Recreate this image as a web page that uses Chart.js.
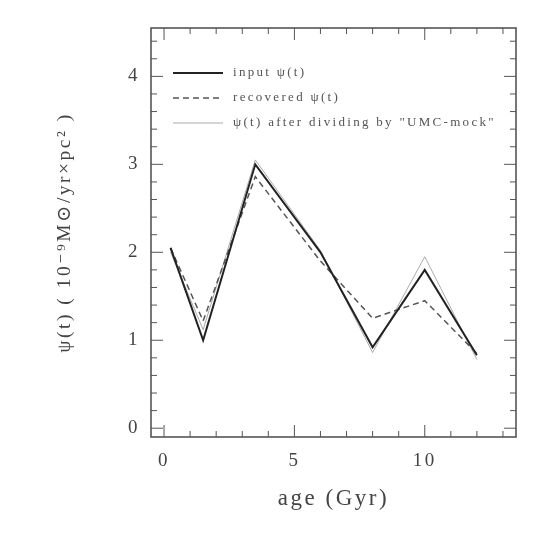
<!DOCTYPE html>
<html>
<head>
<meta charset="utf-8">
<script src="https://cdn.jsdelivr.net/npm/chart.js@4/dist/chart.umd.min.js"></script>
<style>
  html, body { margin: 0; padding: 0; background: #fff; }
  #wrap { width: 545px; height: 545px; }
</style>
</head>
<body>
<div id="wrap"><canvas id="grafico" width="545" height="545"></canvas></div>
<script>
// ages (Gyr)
var idades = [0.25, 1.5, 3.5, 6, 8, 10, 12];
// input psi(t)
var psiInput = [2.05, 1.0, 3.0, 2.0, 0.92, 1.8, 0.83];
// recovered psi(t)
var psiRecuperado = [2.05, 1.22, 2.86, 1.9, 1.25, 1.45, 0.85];
// psi(t) after dividing by "UMC-mock"
var psiUMC = [2.0, 1.12, 3.05, 2.02, 0.86, 1.95, 0.78];

var ticksX = [0, 5, 10];
var ticksY = [0, 1, 2, 3, 4];

var legendas = ['input \u03c8(t)', 'recovered \u03c8(t)', '\u03c8(t) after dividing by "UMC-mock"'];

function Pontos(xs, ys) {
    var pts = [];
    for (var i = 0; i < xs.length; i++) {
        pts.push({ x: xs[i], y: ys[i] });
    }
    return pts;
}

var fonte = "'Liberation Serif', 'DejaVu Serif', serif";

// wide, typewriter-like spacing of the original lettering
var espacamento = {
    id: 'espacamento',
    beforeDraw: function (chart) {
        chart.ctx.letterSpacing = '2.5px';
    }
};

// frame, inward ticks and legend drawn in the plot
var moldura = {
    id: 'moldura',
    afterDraw: function (chart) {
        var ctx = chart.ctx;
        var a = chart.chartArea;
        var sx = chart.scales.x, sy = chart.scales.y;
        ctx.save();
        ctx.strokeStyle = '#555';
        ctx.lineWidth = 1.6;
        ctx.strokeRect(a.left, a.top, a.right - a.left, a.bottom - a.top);

        ctx.lineWidth = 1;
        var v, px, len;
        for (v = 0; v <= 13; v++) {
            px = sx.getPixelForValue(v);
            len = (v % 5 === 0) ? 12 : 6;
            ctx.beginPath();
            ctx.moveTo(px, a.bottom); ctx.lineTo(px, a.bottom - len);
            ctx.moveTo(px, a.top); ctx.lineTo(px, a.top + len);
            ctx.stroke();
        }
        for (var k = 0; k <= 22; k++) {
            v = k * 0.2;
            px = sy.getPixelForValue(v);
            len = (k % 5 === 0) ? 12 : 6;
            ctx.beginPath();
            ctx.moveTo(a.left, px); ctx.lineTo(a.left + len, px);
            ctx.moveTo(a.right, px); ctx.lineTo(a.right - len, px);
            ctx.stroke();
        }

        // legend
        ctx.letterSpacing = '2.3px';
        ctx.font = '13px ' + fonte;
        ctx.textBaseline = 'middle';
        ctx.fillStyle = '#555';
        var linhaY = [73, 98, 123];
        chart.data.datasets.forEach(function (ds, i) {
            ctx.strokeStyle = ds.borderColor;
            ctx.lineWidth = ds.borderWidth;
            ctx.setLineDash(ds.borderDash || []);
            ctx.beginPath();
            ctx.moveTo(173, linhaY[i]);
            ctx.lineTo(223, linhaY[i]);
            ctx.stroke();
            ctx.setLineDash([]);
            ctx.fillText(legendas[i], 233, linhaY[i]);
        });
        ctx.restore();
    }
};

new Chart(document.getElementById('grafico'), {
    type: 'line',
    data: {
        datasets: [
            {
                label: legendas[0],
                data: Pontos(idades, psiInput),
                borderColor: '#222',
                borderWidth: 2,
                pointRadius: 0,
                fill: false,
                tension: 0
            },
            {
                label: legendas[1],
                data: Pontos(idades, psiRecuperado),
                borderColor: '#555',
                borderWidth: 1.5,
                borderDash: [6, 4],
                pointRadius: 0,
                fill: false,
                tension: 0
            },
            {
                label: legendas[2],
                data: Pontos(idades, psiUMC),
                borderColor: '#aaa',
                borderWidth: 1,
                pointRadius: 0,
                fill: false,
                tension: 0
            }
        ]
    },
    options: {
        responsive: false,
        animation: false,
        layout: { padding: { left: 49, top: 28, right: 29, bottom: 28 } },
        plugins: {
            legend: { display: false },
            tooltip: { enabled: false }
        },
        scales: {
            x: {
                type: 'linear',
                min: -0.5,
                max: 13.5,
                afterBuildTicks: function (s) {
                    s.ticks = ticksX.map(function (t) { return { value: t }; });
                },
                afterFit: function (s) { s.height = 80; },
                grid: { display: false, drawTicks: false },
                border: { display: false },
                ticks: {
                    padding: 13,
                    color: '#444',
                    maxRotation: 0,
                    font: { family: fonte, size: 19 }
                },
                title: {
                    display: true,
                    text: 'age (Gyr)',
                    color: '#444',
                    padding: 4,
                    font: { family: fonte, size: 23 }
                }
            },
            y: {
                min: -0.1,
                max: 4.55,
                afterBuildTicks: function (s) {
                    s.ticks = ticksY.map(function (t) { return { value: t }; });
                },
                afterFit: function (s) { s.width = 102; },
                grid: { display: false, drawTicks: false },
                border: { display: false },
                ticks: {
                    padding: 11,
                    color: '#444',
                    font: { family: fonte, size: 19 }
                },
                title: {
                    display: true,
                    text: '\u03c8(t) ( 10\u207b\u2079M\u2299/yr\u00d7pc\u00b2 )',
                    color: '#444',
                    padding: 4,
                    font: { family: fonte, size: 19.5 }
                }
            }
        }
    },
    plugins: [espacamento, moldura]
});
</script>
</body>
</html>
